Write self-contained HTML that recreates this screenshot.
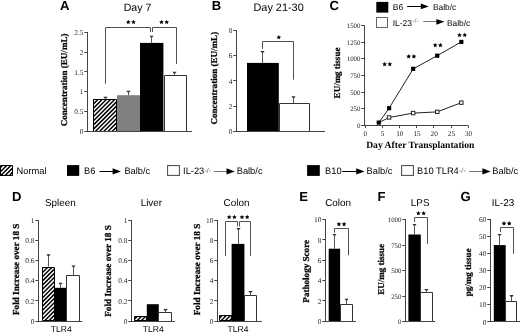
<!DOCTYPE html>
<html><head><meta charset="utf-8"><style>
html,body{margin:0;padding:0;background:#fff;}
body{width:520px;height:333px;overflow:hidden;}
svg{display:block;filter:grayscale(1) blur(0.3px);}
text{text-rendering:geometricPrecision;}
</style></head><body>
<svg width="520" height="333" viewBox="0 0 520 333">
<defs>
</defs>
<rect width="520" height="333" fill="#fff"/>
<text x="60" y="9.6" font-size="13.1" font-family='"Liberation Sans", sans-serif' font-weight="bold" text-anchor="start" fill="#000" >A</text>
<text x="137.5" y="10.8" font-size="10.6" font-family='"Liberation Sans", sans-serif' font-weight="normal" text-anchor="middle" fill="#000" >Day 7</text>
<line x1="87.5" y1="32" x2="87.5" y2="131.3" stroke="#444" stroke-width="1"/>
<line x1="84.3" y1="131.5" x2="88.0" y2="131.5" stroke="#444" stroke-width="1"/>
<text x="83.5" y="134.0" font-size="7.4" font-family='"Liberation Serif", serif' font-weight="normal" text-anchor="end" fill="#222" >0</text>
<line x1="84.3" y1="111.5" x2="88.0" y2="111.5" stroke="#444" stroke-width="1"/>
<text x="83.5" y="114.2" font-size="7.4" font-family='"Liberation Serif", serif' font-weight="normal" text-anchor="end" fill="#222" >0.5</text>
<line x1="84.3" y1="91.5" x2="88.0" y2="91.5" stroke="#444" stroke-width="1"/>
<text x="83.5" y="94.4" font-size="7.4" font-family='"Liberation Serif", serif' font-weight="normal" text-anchor="end" fill="#222" >1</text>
<line x1="84.3" y1="71.5" x2="88.0" y2="71.5" stroke="#444" stroke-width="1"/>
<text x="83.5" y="74.6" font-size="7.4" font-family='"Liberation Serif", serif' font-weight="normal" text-anchor="end" fill="#222" >1.5</text>
<line x1="84.3" y1="52.5" x2="88.0" y2="52.5" stroke="#444" stroke-width="1"/>
<text x="83.5" y="54.8" font-size="7.4" font-family='"Liberation Serif", serif' font-weight="normal" text-anchor="end" fill="#222" >2</text>
<line x1="84.3" y1="32.5" x2="88.0" y2="32.5" stroke="#444" stroke-width="1"/>
<text x="83.5" y="35.0" font-size="7.4" font-family='"Liberation Serif", serif' font-weight="normal" text-anchor="end" fill="#222" >2.5</text>
<text x="0" y="0" font-size="9.05" font-family='"Liberation Serif", serif' font-weight="bold" text-anchor="middle" dominant-baseline="central" fill="#000" stroke="#000" stroke-width="0.25" transform="translate(64.1,79.9) rotate(-90)">Concentration (EU/mL)</text>
<clipPath id="hc1"><rect x="93" y="99.2" width="24" height="32.10000000000001"/></clipPath>
<g clip-path="url(#hc1)"><rect x="93" y="99.2" width="24" height="32.10000000000001" fill="#fff"/><path d="M55.70,133.30L91.80,97.20M59.90,133.30L96.00,97.20M64.10,133.30L100.20,97.20M68.30,133.30L104.40,97.20M72.50,133.30L108.60,97.20M76.70,133.30L112.80,97.20M80.90,133.30L117.00,97.20M85.10,133.30L121.20,97.20M89.30,133.30L125.40,97.20M93.50,133.30L129.60,97.20M97.70,133.30L133.80,97.20M101.90,133.30L138.00,97.20M106.10,133.30L142.20,97.20M110.30,133.30L146.40,97.20M114.50,133.30L150.60,97.20M118.70,133.30L154.80,97.20" stroke="#000" stroke-width="1.45" fill="none"/></g>
<polygon points="93.5,131.5 93.5,99.5 116.5,99.5 116.5,131.5" fill="none" stroke="#000" stroke-width="1"/>
<rect x="117" y="95.2" width="23" height="36.10000000000001" fill="#808080"/>
<rect x="140" y="42.9" width="23.400000000000006" height="88.4" fill="#000"/>
<rect x="164" y="75.3" width="23" height="56.000000000000014" fill="#fff"/>
<polyline points="164.5,131.3 164.5,75.5 186.5,75.5 186.5,131.3" fill="none" stroke="#333" stroke-width="1"/>
<line x1="87" y1="131.5" x2="192" y2="131.5" stroke="#444" stroke-width="1"/>
<line x1="105.5" y1="99.2" x2="105.5" y2="98.4" stroke="#555" stroke-width="1"/>
<polygon points="103.30,96.80 107.70,96.80 106.30,98.60 104.70,98.60" fill="#333"/>
<line x1="128.5" y1="95.2" x2="128.5" y2="92.4" stroke="#555" stroke-width="1"/>
<polygon points="126.30,90.80 130.70,90.80 129.30,92.60 127.70,92.60" fill="#333"/>
<line x1="151.5" y1="42.9" x2="151.5" y2="37.4" stroke="#555" stroke-width="1"/>
<polygon points="149.50,35.80 153.50,35.80 152.30,37.60 150.70,37.60" fill="#333"/>
<line x1="174.5" y1="75.3" x2="174.5" y2="73.3" stroke="#555" stroke-width="1"/>
<polygon points="172.30,71.70 176.70,71.70 175.30,73.50 173.70,73.50" fill="#333"/>
<polyline points="105.5,83.7 105.5,27.5 150.5,27.5 150.5,32.0" fill="none" stroke="#505050" stroke-width="1"/>
<polyline points="152.5,32.0 152.5,27.5 176.5,27.5 176.5,64.0" fill="none" stroke="#505050" stroke-width="1"/>
<polygon points="128.30,19.68 128.99,21.18 130.63,21.38 129.42,22.50 129.74,24.12 128.30,23.31 126.86,24.12 127.18,22.50 125.97,21.38 127.61,21.18" fill="#000"/>
<polygon points="133.50,19.68 134.19,21.18 135.83,21.38 134.62,22.50 134.94,24.12 133.50,23.31 132.06,24.12 132.38,22.50 131.17,21.38 132.81,21.18" fill="#000"/>
<polygon points="161.50,19.68 162.19,21.18 163.83,21.38 162.62,22.50 162.94,24.12 161.50,23.31 160.06,24.12 160.38,22.50 159.17,21.38 160.81,21.18" fill="#000"/>
<polygon points="166.70,19.68 167.39,21.18 169.03,21.38 167.82,22.50 168.14,24.12 166.70,23.31 165.26,24.12 165.58,22.50 164.37,21.38 166.01,21.18" fill="#000"/>
<text x="211.7" y="9.7" font-size="13.1" font-family='"Liberation Sans", sans-serif' font-weight="bold" text-anchor="start" fill="#000" >B</text>
<text x="278.6" y="10.6" font-size="10.9" font-family='"Liberation Sans", sans-serif' font-weight="normal" text-anchor="middle" fill="#000" >Day 21-30</text>
<line x1="236.5" y1="30.6" x2="236.5" y2="131.2" stroke="#444" stroke-width="1"/>
<line x1="233.3" y1="131.5" x2="237.0" y2="131.5" stroke="#444" stroke-width="1"/>
<text x="232.5" y="133.9" font-size="7.4" font-family='"Liberation Serif", serif' font-weight="normal" text-anchor="end" fill="#222" >0</text>
<line x1="233.3" y1="106.5" x2="237.0" y2="106.5" stroke="#444" stroke-width="1"/>
<text x="232.5" y="108.75" font-size="7.4" font-family='"Liberation Serif", serif' font-weight="normal" text-anchor="end" fill="#222" >2</text>
<line x1="233.3" y1="80.5" x2="237.0" y2="80.5" stroke="#444" stroke-width="1"/>
<text x="232.5" y="83.6" font-size="7.4" font-family='"Liberation Serif", serif' font-weight="normal" text-anchor="end" fill="#222" >4</text>
<line x1="233.3" y1="55.5" x2="237.0" y2="55.5" stroke="#444" stroke-width="1"/>
<text x="232.5" y="58.45" font-size="7.4" font-family='"Liberation Serif", serif' font-weight="normal" text-anchor="end" fill="#222" >6</text>
<line x1="233.3" y1="30.5" x2="237.0" y2="30.5" stroke="#444" stroke-width="1"/>
<text x="232.5" y="33.3" font-size="7.4" font-family='"Liberation Serif", serif' font-weight="normal" text-anchor="end" fill="#222" >8</text>
<text x="0" y="0" font-size="9.05" font-family='"Liberation Serif", serif' font-weight="bold" text-anchor="middle" dominant-baseline="central" fill="#000" stroke="#000" stroke-width="0.25" transform="translate(213.5,78.2) rotate(-90)">Concentration (EU/mL)</text>
<rect x="247" y="62.9" width="31.80000000000001" height="68.29999999999998" fill="#000"/>
<rect x="279" y="103.3" width="31" height="27.89999999999999" fill="#fff"/>
<polyline points="279.5,131.2 279.5,103.5 309.5,103.5 309.5,131.2" fill="none" stroke="#333" stroke-width="1"/>
<line x1="236.4" y1="131.5" x2="325" y2="131.5" stroke="#444" stroke-width="1"/>
<line x1="262.5" y1="62.9" x2="262.5" y2="52.5" stroke="#555" stroke-width="1"/>
<polygon points="260.30,50.90 264.70,50.90 263.30,52.70 261.70,52.70" fill="#333"/>
<line x1="293.5" y1="103.3" x2="293.5" y2="97.8" stroke="#555" stroke-width="1"/>
<polygon points="291.50,96.20 295.50,96.20 294.30,98.00 292.70,98.00" fill="#333"/>
<polyline points="262.5,49.0 262.5,41.5 293.5,41.5 293.5,79.7" fill="none" stroke="#505050" stroke-width="1"/>
<polygon points="278.80,34.88 279.49,36.38 281.13,36.58 279.92,37.70 280.24,39.32 278.80,38.51 277.36,39.32 277.68,37.70 276.47,36.58 278.11,36.38" fill="#000"/>
<text x="329.6" y="9.7" font-size="13.1" font-family='"Liberation Sans", sans-serif' font-weight="bold" text-anchor="start" fill="#000" >C</text>
<rect x="376.3" y="1.9" width="12" height="10.7" fill="#000"/>
<text x="392.8" y="10.4" font-size="8.5" font-family='"Liberation Sans", sans-serif' font-weight="normal" text-anchor="start" fill="#000" >B6</text>
<line x1="407.2" y1="6.5" x2="421.3" y2="6.5" stroke="#000" stroke-width="1"/>
<polygon points="420.8,3.5000000000000004 428.8,6.4 420.8,9.3" fill="#000"/>
<text x="432.9" y="10.4" font-size="8.4" font-family='"Liberation Sans", sans-serif' font-weight="normal" text-anchor="start" fill="#000" >Balb/c</text>
<rect x="376.5" y="17.5" width="11" height="10" fill="#fff" stroke="#666" stroke-width="1"/>
<text x="392.7" y="25.6" font-size="8.5" font-family='"Liberation Sans", sans-serif' font-weight="normal" text-anchor="start" fill="#000" >IL-23</text>
<text x="412.2" y="23.4" font-size="7" font-family='"Liberation Sans", sans-serif' font-weight="normal" text-anchor="start" fill="#777" >-/-</text>
<line x1="423.3" y1="21.5" x2="436.9" y2="21.5" stroke="#777" stroke-width="1"/>
<polygon points="436.4,18.900000000000002 444.4,21.8 436.4,24.7" fill="#000"/>
<text x="446.9" y="25.6" font-size="8.4" font-family='"Liberation Sans", sans-serif' font-weight="normal" text-anchor="start" fill="#000" >Balb/c</text>
<line x1="364.5" y1="25.6" x2="364.5" y2="125.6" stroke="#444" stroke-width="1"/>
<line x1="361.3" y1="125.5" x2="365.0" y2="125.5" stroke="#444" stroke-width="1"/>
<text x="360.5" y="128.13" font-size="6.9" font-family='"Liberation Serif", serif' font-weight="normal" text-anchor="end" fill="#222" >0</text>
<line x1="361.3" y1="108.5" x2="365.0" y2="108.5" stroke="#444" stroke-width="1"/>
<text x="360.5" y="111.47" font-size="6.9" font-family='"Liberation Serif", serif' font-weight="normal" text-anchor="end" fill="#222" >250</text>
<line x1="361.3" y1="92.5" x2="365.0" y2="92.5" stroke="#444" stroke-width="1"/>
<text x="360.5" y="94.8" font-size="6.9" font-family='"Liberation Serif", serif' font-weight="normal" text-anchor="end" fill="#222" >500</text>
<line x1="361.3" y1="75.5" x2="365.0" y2="75.5" stroke="#444" stroke-width="1"/>
<text x="360.5" y="78.13" font-size="6.9" font-family='"Liberation Serif", serif' font-weight="normal" text-anchor="end" fill="#222" >750</text>
<line x1="361.3" y1="58.5" x2="365.0" y2="58.5" stroke="#444" stroke-width="1"/>
<text x="360.5" y="61.47" font-size="6.9" font-family='"Liberation Serif", serif' font-weight="normal" text-anchor="end" fill="#222" >1000</text>
<line x1="361.3" y1="42.5" x2="365.0" y2="42.5" stroke="#444" stroke-width="1"/>
<text x="360.5" y="44.8" font-size="6.9" font-family='"Liberation Serif", serif' font-weight="normal" text-anchor="end" fill="#222" >1250</text>
<line x1="361.3" y1="25.5" x2="365.0" y2="25.5" stroke="#444" stroke-width="1"/>
<text x="360.5" y="28.13" font-size="6.9" font-family='"Liberation Serif", serif' font-weight="normal" text-anchor="end" fill="#222" >1500</text>
<line x1="364.8" y1="125.5" x2="468.2" y2="125.5" stroke="#444" stroke-width="1"/>
<line x1="365.5" y1="125.6" x2="365.5" y2="128.1" stroke="#444" stroke-width="1"/>
<text x="365.4" y="136.3" font-size="7.2" font-family='"Liberation Serif", serif' font-weight="normal" text-anchor="middle" fill="#222" >0</text>
<line x1="382.5" y1="125.6" x2="382.5" y2="128.1" stroke="#444" stroke-width="1"/>
<text x="382.59999999999997" y="136.3" font-size="7.2" font-family='"Liberation Serif", serif' font-weight="normal" text-anchor="middle" fill="#222" >5</text>
<line x1="399.5" y1="125.6" x2="399.5" y2="128.1" stroke="#444" stroke-width="1"/>
<text x="399.79999999999995" y="136.3" font-size="7.2" font-family='"Liberation Serif", serif' font-weight="normal" text-anchor="middle" fill="#222" >10</text>
<line x1="416.5" y1="125.6" x2="416.5" y2="128.1" stroke="#444" stroke-width="1"/>
<text x="417.0" y="136.3" font-size="7.2" font-family='"Liberation Serif", serif' font-weight="normal" text-anchor="middle" fill="#222" >15</text>
<line x1="433.5" y1="125.6" x2="433.5" y2="128.1" stroke="#444" stroke-width="1"/>
<text x="434.2" y="136.3" font-size="7.2" font-family='"Liberation Serif", serif' font-weight="normal" text-anchor="middle" fill="#222" >20</text>
<line x1="451.5" y1="125.6" x2="451.5" y2="128.1" stroke="#444" stroke-width="1"/>
<text x="451.4" y="136.3" font-size="7.2" font-family='"Liberation Serif", serif' font-weight="normal" text-anchor="middle" fill="#222" >25</text>
<line x1="468.5" y1="125.6" x2="468.5" y2="128.1" stroke="#444" stroke-width="1"/>
<text x="468.59999999999997" y="136.3" font-size="7.2" font-family='"Liberation Serif", serif' font-weight="normal" text-anchor="middle" fill="#222" >30</text>
<text x="420.3" y="148.1" font-size="9.6" font-family='"Liberation Serif", serif' font-weight="bold" text-anchor="middle" fill="#000" >Day After Transplantation</text>
<text x="0" y="0" font-size="9" font-family='"Liberation Serif", serif' font-weight="bold" text-anchor="middle" dominant-baseline="central" fill="#000" stroke="#000" stroke-width="0.25" transform="translate(337.2,73) rotate(-90)">EU/mg tissue</text>
<polyline points="378.8,122.6 389.1,117.5 413.2,113.1 437.2,111.9 461.3,102.7" fill="none" stroke="#222" stroke-width="1"/>
<polyline points="378.8,122.6 389.1,108.2 413.2,68.8 437.2,55.7 461.3,41.9" fill="none" stroke="#222" stroke-width="1"/>
<rect x="387.38" y="115.76666666666667" width="3.4" height="3.4" fill="#fff" stroke="#222" stroke-width="1"/>
<rect x="411.46" y="111.36666666666666" width="3.4" height="3.4" fill="#fff" stroke="#222" stroke-width="1"/>
<rect x="435.54" y="110.16666666666666" width="3.4" height="3.4" fill="#fff" stroke="#222" stroke-width="1"/>
<rect x="459.62" y="100.96666666666665" width="3.4" height="3.4" fill="#fff" stroke="#222" stroke-width="1"/>
<rect x="376.65999999999997" y="120.5" width="4.2" height="4.2" fill="#000"/>
<rect x="386.97999999999996" y="106.1" width="4.2" height="4.2" fill="#000"/>
<rect x="411.05999999999995" y="66.7" width="4.2" height="4.2" fill="#000"/>
<rect x="435.14" y="53.566666666666656" width="4.2" height="4.2" fill="#000"/>
<rect x="459.21999999999997" y="39.83333333333332" width="4.2" height="4.2" fill="#000"/>
<polygon points="384.60,61.78 385.29,63.28 386.93,63.48 385.72,64.60 386.04,66.22 384.60,65.41 383.16,66.22 383.48,64.60 382.27,63.48 383.91,63.28" fill="#000"/>
<polygon points="389.80,61.78 390.49,63.28 392.13,63.48 390.92,64.60 391.24,66.22 389.80,65.41 388.36,66.22 388.68,64.60 387.47,63.48 389.11,63.28" fill="#000"/>
<polygon points="408.70,54.08 409.39,55.58 411.03,55.78 409.82,56.90 410.14,58.52 408.70,57.71 407.26,58.52 407.58,56.90 406.37,55.78 408.01,55.58" fill="#000"/>
<polygon points="413.90,54.08 414.59,55.58 416.23,55.78 415.02,56.90 415.34,58.52 413.90,57.71 412.46,58.52 412.78,56.90 411.57,55.78 413.21,55.58" fill="#000"/>
<polygon points="435.20,42.78 435.89,44.28 437.53,44.48 436.32,45.60 436.64,47.22 435.20,46.41 433.76,47.22 434.08,45.60 432.87,44.48 434.51,44.28" fill="#000"/>
<polygon points="440.40,42.78 441.09,44.28 442.73,44.48 441.52,45.60 441.84,47.22 440.40,46.41 438.96,47.22 439.28,45.60 438.07,44.48 439.71,44.28" fill="#000"/>
<polygon points="459.50,32.68 460.19,34.18 461.83,34.38 460.62,35.50 460.94,37.12 459.50,36.31 458.06,37.12 458.38,35.50 457.17,34.38 458.81,34.18" fill="#000"/>
<polygon points="464.70,32.68 465.39,34.18 467.03,34.38 465.82,35.50 466.14,37.12 464.70,36.31 463.26,37.12 463.58,35.50 462.37,34.38 464.01,34.18" fill="#000"/>
<clipPath id="hc2"><rect x="0" y="165.1" width="12.5" height="10.800000000000011"/></clipPath>
<g clip-path="url(#hc2)"><rect x="0" y="165.1" width="12.5" height="10.800000000000011" fill="#fff"/><path d="M-14.10,177.90L0.70,163.10M-9.90,177.90L4.90,163.10M-5.70,177.90L9.10,163.10M-1.50,177.90L13.30,163.10M2.70,177.90L17.50,163.10M6.90,177.90L21.70,163.10M11.10,177.90L25.90,163.10" stroke="#000" stroke-width="1.45" fill="none"/></g>
<polygon points="0.5,175.5 0.5,165.5 12.5,165.5 12.5,175.5" fill="none" stroke="#000" stroke-width="1"/>
<text x="16.6" y="173.9" font-size="9.3" font-family='"Liberation Sans", sans-serif' font-weight="normal" text-anchor="start" fill="#000" >Normal</text>
<rect x="67" y="165.1" width="12.2" height="10.8" fill="#000"/>
<text x="84.0" y="174.2" font-size="9.3" font-family='"Liberation Sans", sans-serif' font-weight="normal" text-anchor="start" fill="#000" >B6</text>
<line x1="99.5" y1="171.5" x2="113.10000000000001" y2="171.5" stroke="#000" stroke-width="1"/>
<polygon points="112.60000000000001,168.3 120.9,171.4 112.60000000000001,174.5" fill="#000"/>
<text x="124.4" y="174.2" font-size="9.3" font-family='"Liberation Sans", sans-serif' font-weight="normal" text-anchor="start" fill="#000" >Balb/c</text>
<rect x="167.6" y="165.6" width="11.8" height="9.8" fill="#fff" stroke="#444" stroke-width="1"/>
<text x="183.1" y="174.2" font-size="9.3" font-family='"Liberation Sans", sans-serif' font-weight="normal" text-anchor="start" fill="#000" >IL-23</text>
<text x="204.3" y="173.1" font-size="7.4" font-family='"Liberation Sans", sans-serif' font-weight="normal" text-anchor="start" fill="#666" >-/-</text>
<line x1="213.7" y1="171.5" x2="227.0" y2="171.5" stroke="#777" stroke-width="1"/>
<polygon points="226.5,168.3 234.8,171.4 226.5,174.5" fill="#000"/>
<text x="236.7" y="174.2" font-size="9.3" font-family='"Liberation Sans", sans-serif' font-weight="normal" text-anchor="start" fill="#000" >Balb/c</text>
<rect x="307.1" y="165.1" width="12.7" height="10.8" fill="#000"/>
<text x="325.1" y="174.2" font-size="9.3" font-family='"Liberation Sans", sans-serif' font-weight="normal" text-anchor="start" fill="#000" >B10</text>
<line x1="342.3" y1="171.5" x2="356.7" y2="171.5" stroke="#000" stroke-width="1"/>
<polygon points="356.2,168.3 364.5,171.4 356.2,174.5" fill="#000"/>
<text x="366.6" y="174.2" font-size="9.3" font-family='"Liberation Sans", sans-serif' font-weight="normal" text-anchor="start" fill="#000" >Balb/c</text>
<rect x="401.6" y="165.6" width="11.8" height="9.8" fill="#fff" stroke="#444" stroke-width="1"/>
<text x="417.1" y="174.2" font-size="9.3" font-family='"Liberation Sans", sans-serif' font-weight="normal" text-anchor="start" fill="#000" >B10 TLR4</text>
<text x="458.9" y="173.1" font-size="7.4" font-family='"Liberation Sans", sans-serif' font-weight="normal" text-anchor="start" fill="#666" >-/-</text>
<line x1="469" y1="171.5" x2="482.9" y2="171.5" stroke="#777" stroke-width="1"/>
<polygon points="482.4,168.3 490.7,171.4 482.4,174.5" fill="#000"/>
<text x="492.3" y="174.2" font-size="9.3" font-family='"Liberation Sans", sans-serif' font-weight="normal" text-anchor="start" fill="#000" >Balb/c</text>
<text x="12" y="201.1" font-size="13.1" font-family='"Liberation Sans", sans-serif' font-weight="bold" text-anchor="start" fill="#000" >D</text>
<text x="60.3" y="206.4" font-size="9.9" font-family='"Liberation Sans", sans-serif' font-weight="normal" text-anchor="middle" fill="#000" >Spleen</text>
<line x1="38.5" y1="220" x2="38.5" y2="321" stroke="#444" stroke-width="1"/>
<line x1="35.3" y1="321.5" x2="39.0" y2="321.5" stroke="#444" stroke-width="1"/>
<text x="34.5" y="323.7" font-size="7.4" font-family='"Liberation Serif", serif' font-weight="normal" text-anchor="end" fill="#222" >0</text>
<line x1="35.3" y1="300.5" x2="39.0" y2="300.5" stroke="#444" stroke-width="1"/>
<text x="34.5" y="303.5" font-size="7.4" font-family='"Liberation Serif", serif' font-weight="normal" text-anchor="end" fill="#222" >0.2</text>
<line x1="35.3" y1="280.5" x2="39.0" y2="280.5" stroke="#444" stroke-width="1"/>
<text x="34.5" y="283.3" font-size="7.4" font-family='"Liberation Serif", serif' font-weight="normal" text-anchor="end" fill="#222" >0.4</text>
<line x1="35.3" y1="260.5" x2="39.0" y2="260.5" stroke="#444" stroke-width="1"/>
<text x="34.5" y="263.1" font-size="7.4" font-family='"Liberation Serif", serif' font-weight="normal" text-anchor="end" fill="#222" >0.6</text>
<line x1="35.3" y1="240.5" x2="39.0" y2="240.5" stroke="#444" stroke-width="1"/>
<text x="34.5" y="242.9" font-size="7.4" font-family='"Liberation Serif", serif' font-weight="normal" text-anchor="end" fill="#222" >0.8</text>
<line x1="35.3" y1="220.5" x2="39.0" y2="220.5" stroke="#444" stroke-width="1"/>
<text x="34.5" y="222.7" font-size="7.4" font-family='"Liberation Serif", serif' font-weight="normal" text-anchor="end" fill="#222" >1</text>
<text x="0" y="0" font-size="9.2" font-family='"Liberation Serif", serif' font-weight="bold" text-anchor="middle" dominant-baseline="central" fill="#000" stroke="#000" stroke-width="0.25" transform="translate(16,269.3) rotate(-90)">Fold Increase over 18 S</text>
<clipPath id="hc3"><rect x="42.2" y="267" width="12.599999999999994" height="54"/></clipPath>
<g clip-path="url(#hc3)"><rect x="42.2" y="267" width="12.599999999999994" height="54" fill="#fff"/><path d="M-16.40,323.00L41.60,265.00M-12.20,323.00L45.80,265.00M-8.00,323.00L50.00,265.00M-3.80,323.00L54.20,265.00M0.40,323.00L58.40,265.00M4.60,323.00L62.60,265.00M8.80,323.00L66.80,265.00M13.00,323.00L71.00,265.00M17.20,323.00L75.20,265.00M21.40,323.00L79.40,265.00M25.60,323.00L83.60,265.00M29.80,323.00L87.80,265.00M34.00,323.00L92.00,265.00M38.20,323.00L96.20,265.00M42.40,323.00L100.40,265.00M46.60,323.00L104.60,265.00M50.80,323.00L108.80,265.00M55.00,323.00L113.00,265.00" stroke="#000" stroke-width="1.45" fill="none"/></g>
<polygon points="42.5,320.5 42.5,267.5 54.5,267.5 54.5,320.5" fill="none" stroke="#000" stroke-width="1"/>
<rect x="54.8" y="287.8" width="11.600000000000009" height="33.19999999999999" fill="#000"/>
<rect x="66.4" y="275.2" width="13.599999999999994" height="45.80000000000001" fill="#fff"/>
<polyline points="66.5,321 66.5,275.5 79.5,275.5 79.5,321" fill="none" stroke="#333" stroke-width="1"/>
<line x1="48.5" y1="266.6" x2="48.5" y2="255.8" stroke="#555" stroke-width="1"/>
<polygon points="46.50,254.20 50.50,254.20 49.30,256.00 47.70,256.00" fill="#333"/>
<line x1="60.5" y1="287.8" x2="60.5" y2="284.4" stroke="#555" stroke-width="1"/>
<polygon points="58.30,282.80 62.70,282.80 61.30,284.60 59.70,284.60" fill="#333"/>
<line x1="73.5" y1="275.2" x2="73.5" y2="267.1" stroke="#555" stroke-width="1"/>
<polygon points="71.50,265.50 75.50,265.50 74.30,267.30 72.70,267.30" fill="#333"/>
<line x1="38.8" y1="321.5" x2="82.3" y2="321.5" stroke="#444" stroke-width="1"/>
<text x="61.25" y="332.1" font-size="8.5" font-family='"Liberation Sans", sans-serif' font-weight="normal" text-anchor="middle" fill="#000" >TLR4</text>
<text x="151.35" y="206.4" font-size="9.9" font-family='"Liberation Sans", sans-serif' font-weight="normal" text-anchor="middle" fill="#000" >Liver</text>
<line x1="131.5" y1="220" x2="131.5" y2="321" stroke="#444" stroke-width="1"/>
<line x1="128.3" y1="321.5" x2="132.0" y2="321.5" stroke="#444" stroke-width="1"/>
<text x="127.5" y="323.7" font-size="7.4" font-family='"Liberation Serif", serif' font-weight="normal" text-anchor="end" fill="#222" >0</text>
<line x1="128.3" y1="300.5" x2="132.0" y2="300.5" stroke="#444" stroke-width="1"/>
<text x="127.5" y="303.5" font-size="7.4" font-family='"Liberation Serif", serif' font-weight="normal" text-anchor="end" fill="#222" >0.2</text>
<line x1="128.3" y1="280.5" x2="132.0" y2="280.5" stroke="#444" stroke-width="1"/>
<text x="127.5" y="283.3" font-size="7.4" font-family='"Liberation Serif", serif' font-weight="normal" text-anchor="end" fill="#222" >0.4</text>
<line x1="128.3" y1="260.5" x2="132.0" y2="260.5" stroke="#444" stroke-width="1"/>
<text x="127.5" y="263.1" font-size="7.4" font-family='"Liberation Serif", serif' font-weight="normal" text-anchor="end" fill="#222" >0.6</text>
<line x1="128.3" y1="240.5" x2="132.0" y2="240.5" stroke="#444" stroke-width="1"/>
<text x="127.5" y="242.9" font-size="7.4" font-family='"Liberation Serif", serif' font-weight="normal" text-anchor="end" fill="#222" >0.8</text>
<line x1="128.3" y1="220.5" x2="132.0" y2="220.5" stroke="#444" stroke-width="1"/>
<text x="127.5" y="222.7" font-size="7.4" font-family='"Liberation Serif", serif' font-weight="normal" text-anchor="end" fill="#222" >1</text>
<text x="0" y="0" font-size="9.2" font-family='"Liberation Serif", serif' font-weight="bold" text-anchor="middle" dominant-baseline="central" fill="#000" stroke="#000" stroke-width="0.25" transform="translate(107.6,271) rotate(-90)">Fold Increase over 18 S</text>
<clipPath id="hc4"><rect x="134.2" y="316.3" width="12.600000000000023" height="4.699999999999989"/></clipPath>
<g clip-path="url(#hc4)"><rect x="134.2" y="316.3" width="12.600000000000023" height="4.699999999999989" fill="#fff"/><path d="M126.40,323.00L135.10,314.30M130.60,323.00L139.30,314.30M134.80,323.00L143.50,314.30M139.00,323.00L147.70,314.30M143.20,323.00L151.90,314.30M147.40,323.00L156.10,314.30" stroke="#000" stroke-width="1.45" fill="none"/></g>
<polygon points="134.5,320.5 134.5,316.5 146.5,316.5 146.5,320.5" fill="none" stroke="#000" stroke-width="1"/>
<rect x="146.8" y="304.2" width="12.0" height="16.80000000000001" fill="#000"/>
<rect x="158.8" y="312.2" width="13.199999999999989" height="8.800000000000011" fill="#fff"/>
<polyline points="158.5,321 158.5,312.5 171.5,312.5 171.5,321" fill="none" stroke="#333" stroke-width="1"/>
<line x1="165.5" y1="312.2" x2="165.5" y2="310.5" stroke="#555" stroke-width="1"/>
<polygon points="163.30,308.90 167.70,308.90 166.30,310.70 164.70,310.70" fill="#333"/>
<line x1="131.3" y1="321.5" x2="174.8" y2="321.5" stroke="#444" stroke-width="1"/>
<text x="153.25" y="332.1" font-size="8.5" font-family='"Liberation Sans", sans-serif' font-weight="normal" text-anchor="middle" fill="#000" >TLR4</text>
<text x="236.5" y="206.4" font-size="9.9" font-family='"Liberation Sans", sans-serif' font-weight="normal" text-anchor="middle" fill="#000" >Colon</text>
<line x1="217.5" y1="220" x2="217.5" y2="321" stroke="#444" stroke-width="1"/>
<line x1="214.3" y1="321.5" x2="218.0" y2="321.5" stroke="#444" stroke-width="1"/>
<text x="213.5" y="323.7" font-size="7.4" font-family='"Liberation Serif", serif' font-weight="normal" text-anchor="end" fill="#222" >0</text>
<line x1="214.3" y1="300.5" x2="218.0" y2="300.5" stroke="#444" stroke-width="1"/>
<text x="213.5" y="303.5" font-size="7.4" font-family='"Liberation Serif", serif' font-weight="normal" text-anchor="end" fill="#222" >2</text>
<line x1="214.3" y1="280.5" x2="218.0" y2="280.5" stroke="#444" stroke-width="1"/>
<text x="213.5" y="283.3" font-size="7.4" font-family='"Liberation Serif", serif' font-weight="normal" text-anchor="end" fill="#222" >4</text>
<line x1="214.3" y1="260.5" x2="218.0" y2="260.5" stroke="#444" stroke-width="1"/>
<text x="213.5" y="263.1" font-size="7.4" font-family='"Liberation Serif", serif' font-weight="normal" text-anchor="end" fill="#222" >6</text>
<line x1="214.3" y1="240.5" x2="218.0" y2="240.5" stroke="#444" stroke-width="1"/>
<text x="213.5" y="242.9" font-size="7.4" font-family='"Liberation Serif", serif' font-weight="normal" text-anchor="end" fill="#222" >8</text>
<line x1="214.3" y1="220.5" x2="218.0" y2="220.5" stroke="#444" stroke-width="1"/>
<text x="213.5" y="222.7" font-size="7.4" font-family='"Liberation Serif", serif' font-weight="normal" text-anchor="end" fill="#222" >10</text>
<text x="0" y="0" font-size="9.2" font-family='"Liberation Serif", serif' font-weight="bold" text-anchor="middle" dominant-baseline="central" fill="#000" stroke="#000" stroke-width="0.25" transform="translate(196.9,269.5) rotate(-90)">Fold Increase over 18 S</text>
<clipPath id="hc5"><rect x="219.7" y="315.4" width="11.900000000000006" height="5.600000000000023"/></clipPath>
<g clip-path="url(#hc5)"><rect x="219.7" y="315.4" width="11.900000000000006" height="5.600000000000023" fill="#fff"/><path d="M210.40,323.00L220.00,313.40M214.60,323.00L224.20,313.40M218.80,323.00L228.40,313.40M223.00,323.00L232.60,313.40M227.20,323.00L236.80,313.40M231.40,323.00L241.00,313.40" stroke="#000" stroke-width="1.45" fill="none"/></g>
<polygon points="219.5,320.5 219.5,315.5 231.5,315.5 231.5,320.5" fill="none" stroke="#000" stroke-width="1"/>
<rect x="231.6" y="243.9" width="12.800000000000011" height="77.1" fill="#000"/>
<rect x="244" y="295.4" width="13" height="25.600000000000023" fill="#fff"/>
<polyline points="244.5,321 244.5,295.5 256.5,295.5 256.5,321" fill="none" stroke="#333" stroke-width="1"/>
<line x1="238.5" y1="243.9" x2="238.5" y2="229.5" stroke="#555" stroke-width="1"/>
<polygon points="236.30,227.90 240.70,227.90 239.30,229.70 237.70,229.70" fill="#333"/>
<line x1="250.5" y1="295.4" x2="250.5" y2="292.5" stroke="#555" stroke-width="1"/>
<polygon points="248.30,290.90 252.70,290.90 251.30,292.70 249.70,292.70" fill="#333"/>
<line x1="217.2" y1="321.5" x2="261.8" y2="321.5" stroke="#444" stroke-width="1"/>
<text x="238" y="332.1" font-size="8.5" font-family='"Liberation Sans", sans-serif' font-weight="normal" text-anchor="middle" fill="#000" >TLR4</text>
<polyline points="225.5,256.0 225.5,221.5 237.5,221.5 237.5,226.4" fill="none" stroke="#505050" stroke-width="1"/>
<polyline points="239.5,226.4 239.5,221.5 250.5,221.5 250.5,256.0" fill="none" stroke="#505050" stroke-width="1"/>
<polygon points="229.20,214.68 229.89,216.18 231.53,216.38 230.32,217.50 230.64,219.12 229.20,218.31 227.76,219.12 228.08,217.50 226.87,216.38 228.51,216.18" fill="#000"/>
<polygon points="234.40,214.68 235.09,216.18 236.73,216.38 235.52,217.50 235.84,219.12 234.40,218.31 232.96,219.12 233.28,217.50 232.07,216.38 233.71,216.18" fill="#000"/>
<polygon points="242.00,214.68 242.69,216.18 244.33,216.38 243.12,217.50 243.44,219.12 242.00,218.31 240.56,219.12 240.88,217.50 239.67,216.38 241.31,216.18" fill="#000"/>
<polygon points="247.20,214.68 247.89,216.18 249.53,216.38 248.32,217.50 248.64,219.12 247.20,218.31 245.76,219.12 246.08,217.50 244.87,216.38 246.51,216.18" fill="#000"/>
<text x="299.3" y="201.3" font-size="13.1" font-family='"Liberation Sans", sans-serif' font-weight="bold" text-anchor="start" fill="#000" >E</text>
<text x="338.1" y="206.4" font-size="9.9" font-family='"Liberation Sans", sans-serif' font-weight="normal" text-anchor="middle" fill="#000" >Colon</text>
<line x1="325.5" y1="219.6" x2="325.5" y2="321.3" stroke="#444" stroke-width="1"/>
<line x1="322.3" y1="321.5" x2="326.0" y2="321.5" stroke="#444" stroke-width="1"/>
<text x="321.5" y="324.0" font-size="7.4" font-family='"Liberation Serif", serif' font-weight="normal" text-anchor="end" fill="#222" >0</text>
<line x1="322.3" y1="300.5" x2="326.0" y2="300.5" stroke="#444" stroke-width="1"/>
<text x="321.5" y="303.66" font-size="7.4" font-family='"Liberation Serif", serif' font-weight="normal" text-anchor="end" fill="#222" >2</text>
<line x1="322.3" y1="280.5" x2="326.0" y2="280.5" stroke="#444" stroke-width="1"/>
<text x="321.5" y="283.32" font-size="7.4" font-family='"Liberation Serif", serif' font-weight="normal" text-anchor="end" fill="#222" >4</text>
<line x1="322.3" y1="260.5" x2="326.0" y2="260.5" stroke="#444" stroke-width="1"/>
<text x="321.5" y="262.98" font-size="7.4" font-family='"Liberation Serif", serif' font-weight="normal" text-anchor="end" fill="#222" >6</text>
<line x1="322.3" y1="239.5" x2="326.0" y2="239.5" stroke="#444" stroke-width="1"/>
<text x="321.5" y="242.64" font-size="7.4" font-family='"Liberation Serif", serif' font-weight="normal" text-anchor="end" fill="#222" >8</text>
<line x1="322.3" y1="219.5" x2="326.0" y2="219.5" stroke="#444" stroke-width="1"/>
<text x="321.5" y="222.3" font-size="7.4" font-family='"Liberation Serif", serif' font-weight="normal" text-anchor="end" fill="#222" >10</text>
<text x="0" y="0" font-size="9.1" font-family='"Liberation Serif", serif' font-weight="bold" text-anchor="middle" dominant-baseline="central" fill="#000" stroke="#000" stroke-width="0.25" transform="translate(306.4,271.3) rotate(-90)">Pathology Score</text>
<rect x="328.7" y="248.7" width="11.400000000000034" height="72.60000000000002" fill="#000"/>
<rect x="340.1" y="304.4" width="12.899999999999977" height="16.900000000000034" fill="#fff"/>
<polyline points="340.5,321.3 340.5,304.5 352.5,304.5 352.5,321.3" fill="none" stroke="#333" stroke-width="1"/>
<line x1="334.5" y1="248.7" x2="334.5" y2="235.5" stroke="#555" stroke-width="1"/>
<polygon points="332.50,233.90 336.50,233.90 335.30,235.70 333.70,235.70" fill="#333"/>
<line x1="346.5" y1="304.4" x2="346.5" y2="300.4" stroke="#555" stroke-width="1"/>
<polygon points="344.50,298.80 348.50,298.80 347.30,300.60 345.70,300.60" fill="#333"/>
<line x1="325.6" y1="321.5" x2="355.9" y2="321.5" stroke="#444" stroke-width="1"/>
<polyline points="334.5,232.7 334.5,228.5 348.5,228.5 348.5,255.2" fill="none" stroke="#505050" stroke-width="1"/>
<polygon points="338.90,221.78 339.59,223.28 341.23,223.48 340.02,224.60 340.34,226.22 338.90,225.41 337.46,226.22 337.78,224.60 336.57,223.48 338.21,223.28" fill="#000"/>
<polygon points="344.10,221.78 344.79,223.28 346.43,223.48 345.22,224.60 345.54,226.22 344.10,225.41 342.66,226.22 342.98,224.60 341.77,223.48 343.41,223.28" fill="#000"/>
<text x="377.6" y="201.1" font-size="13.1" font-family='"Liberation Sans", sans-serif' font-weight="bold" text-anchor="start" fill="#000" >F</text>
<text x="420.2" y="206.4" font-size="9.9" font-family='"Liberation Sans", sans-serif' font-weight="normal" text-anchor="middle" fill="#000" >LPS</text>
<line x1="405.5" y1="219.9" x2="405.5" y2="321.5" stroke="#444" stroke-width="1"/>
<line x1="402.3" y1="321.5" x2="406.0" y2="321.5" stroke="#444" stroke-width="1"/>
<text x="401.5" y="324.03" font-size="6.9" font-family='"Liberation Serif", serif' font-weight="normal" text-anchor="end" fill="#222" >0</text>
<line x1="402.3" y1="296.5" x2="406.0" y2="296.5" stroke="#444" stroke-width="1"/>
<text x="401.5" y="298.63" font-size="6.9" font-family='"Liberation Serif", serif' font-weight="normal" text-anchor="end" fill="#222" >250</text>
<line x1="402.3" y1="270.5" x2="406.0" y2="270.5" stroke="#444" stroke-width="1"/>
<text x="401.5" y="273.23" font-size="6.9" font-family='"Liberation Serif", serif' font-weight="normal" text-anchor="end" fill="#222" >500</text>
<line x1="402.3" y1="245.5" x2="406.0" y2="245.5" stroke="#444" stroke-width="1"/>
<text x="401.5" y="247.83" font-size="6.9" font-family='"Liberation Serif", serif' font-weight="normal" text-anchor="end" fill="#222" >750</text>
<line x1="402.3" y1="219.5" x2="406.0" y2="219.5" stroke="#444" stroke-width="1"/>
<text x="401.5" y="222.43" font-size="6.9" font-family='"Liberation Serif", serif' font-weight="normal" text-anchor="end" fill="#222" >1000</text>
<text x="0" y="0" font-size="9" font-family='"Liberation Serif", serif' font-weight="bold" text-anchor="middle" dominant-baseline="central" fill="#000" stroke="#000" stroke-width="0.25" transform="translate(380.8,269.4) rotate(-90)">EU/mg tissue</text>
<rect x="408.4" y="234.5" width="12.400000000000034" height="87.0" fill="#000"/>
<rect x="420.8" y="292.3" width="12.199999999999989" height="29.19999999999999" fill="#fff"/>
<polyline points="420.5,321.5 420.5,292.5 432.5,292.5 432.5,321.5" fill="none" stroke="#333" stroke-width="1"/>
<line x1="414.5" y1="234.5" x2="414.5" y2="225.5" stroke="#555" stroke-width="1"/>
<polygon points="412.50,223.90 416.50,223.90 415.30,225.70 413.70,225.70" fill="#333"/>
<line x1="426.5" y1="292.3" x2="426.5" y2="290.6" stroke="#555" stroke-width="1"/>
<polygon points="424.50,289.00 428.50,289.00 427.30,290.80 425.70,290.80" fill="#333"/>
<line x1="405.2" y1="321.5" x2="435.2" y2="321.5" stroke="#444" stroke-width="1"/>
<polyline points="414.5,222.0 414.5,217.5 427.5,217.5 427.5,243.8" fill="none" stroke="#505050" stroke-width="1"/>
<polygon points="418.40,210.88 419.09,212.38 420.73,212.58 419.52,213.70 419.84,215.32 418.40,214.51 416.96,215.32 417.28,213.70 416.07,212.58 417.71,212.38" fill="#000"/>
<polygon points="423.60,210.88 424.29,212.38 425.93,212.58 424.72,213.70 425.04,215.32 423.60,214.51 422.16,215.32 422.48,213.70 421.27,212.58 422.91,212.38" fill="#000"/>
<text x="460.5" y="201.3" font-size="13.1" font-family='"Liberation Sans", sans-serif' font-weight="bold" text-anchor="start" fill="#000" >G</text>
<text x="503" y="206.4" font-size="9.9" font-family='"Liberation Sans", sans-serif' font-weight="normal" text-anchor="middle" fill="#000" >IL-23</text>
<line x1="490.5" y1="219.2" x2="490.5" y2="321.8" stroke="#444" stroke-width="1"/>
<line x1="487.3" y1="321.5" x2="491.0" y2="321.5" stroke="#444" stroke-width="1"/>
<text x="486.5" y="324.5" font-size="7.4" font-family='"Liberation Serif", serif' font-weight="normal" text-anchor="end" fill="#222" >0</text>
<line x1="487.3" y1="304.5" x2="491.0" y2="304.5" stroke="#444" stroke-width="1"/>
<text x="486.5" y="307.4" font-size="7.4" font-family='"Liberation Serif", serif' font-weight="normal" text-anchor="end" fill="#222" >10</text>
<line x1="487.3" y1="287.5" x2="491.0" y2="287.5" stroke="#444" stroke-width="1"/>
<text x="486.5" y="290.3" font-size="7.4" font-family='"Liberation Serif", serif' font-weight="normal" text-anchor="end" fill="#222" >20</text>
<line x1="487.3" y1="270.5" x2="491.0" y2="270.5" stroke="#444" stroke-width="1"/>
<text x="486.5" y="273.2" font-size="7.4" font-family='"Liberation Serif", serif' font-weight="normal" text-anchor="end" fill="#222" >30</text>
<line x1="487.3" y1="253.5" x2="491.0" y2="253.5" stroke="#444" stroke-width="1"/>
<text x="486.5" y="256.1" font-size="7.4" font-family='"Liberation Serif", serif' font-weight="normal" text-anchor="end" fill="#222" >40</text>
<line x1="487.3" y1="236.5" x2="491.0" y2="236.5" stroke="#444" stroke-width="1"/>
<text x="486.5" y="239.0" font-size="7.4" font-family='"Liberation Serif", serif' font-weight="normal" text-anchor="end" fill="#222" >50</text>
<line x1="487.3" y1="219.5" x2="491.0" y2="219.5" stroke="#444" stroke-width="1"/>
<text x="486.5" y="221.9" font-size="7.4" font-family='"Liberation Serif", serif' font-weight="normal" text-anchor="end" fill="#222" >60</text>
<text x="0" y="0" font-size="9" font-family='"Liberation Serif", serif' font-weight="bold" text-anchor="middle" dominant-baseline="central" fill="#000" stroke="#000" stroke-width="0.25" transform="translate(467.9,272.3) rotate(-90)">pg/mg tissue</text>
<rect x="493.8" y="245.1" width="11.899999999999977" height="76.70000000000002" fill="#000"/>
<rect x="505.7" y="301.2" width="11.300000000000011" height="20.600000000000023" fill="#fff"/>
<polyline points="505.5,321.8 505.5,301.5 516.5,301.5 516.5,321.8" fill="none" stroke="#333" stroke-width="1"/>
<line x1="499.5" y1="245.1" x2="499.5" y2="235.6" stroke="#555" stroke-width="1"/>
<polygon points="497.50,234.00 501.50,234.00 500.30,235.80 498.70,235.80" fill="#333"/>
<line x1="511.5" y1="301.2" x2="511.5" y2="296.7" stroke="#555" stroke-width="1"/>
<polygon points="509.50,295.10 513.50,295.10 512.30,296.90 510.70,296.90" fill="#333"/>
<line x1="490.3" y1="321.5" x2="520" y2="321.5" stroke="#444" stroke-width="1"/>
<polyline points="500.5,232.2 500.5,227.5 513.5,227.5 513.5,253.8" fill="none" stroke="#505050" stroke-width="1"/>
<polygon points="504.00,221.08 504.69,222.58 506.33,222.78 505.12,223.90 505.44,225.52 504.00,224.71 502.56,225.52 502.88,223.90 501.67,222.78 503.31,222.58" fill="#000"/>
<polygon points="509.20,221.08 509.89,222.58 511.53,222.78 510.32,223.90 510.64,225.52 509.20,224.71 507.76,225.52 508.08,223.90 506.87,222.78 508.51,222.58" fill="#000"/>
</svg>
</body></html>
